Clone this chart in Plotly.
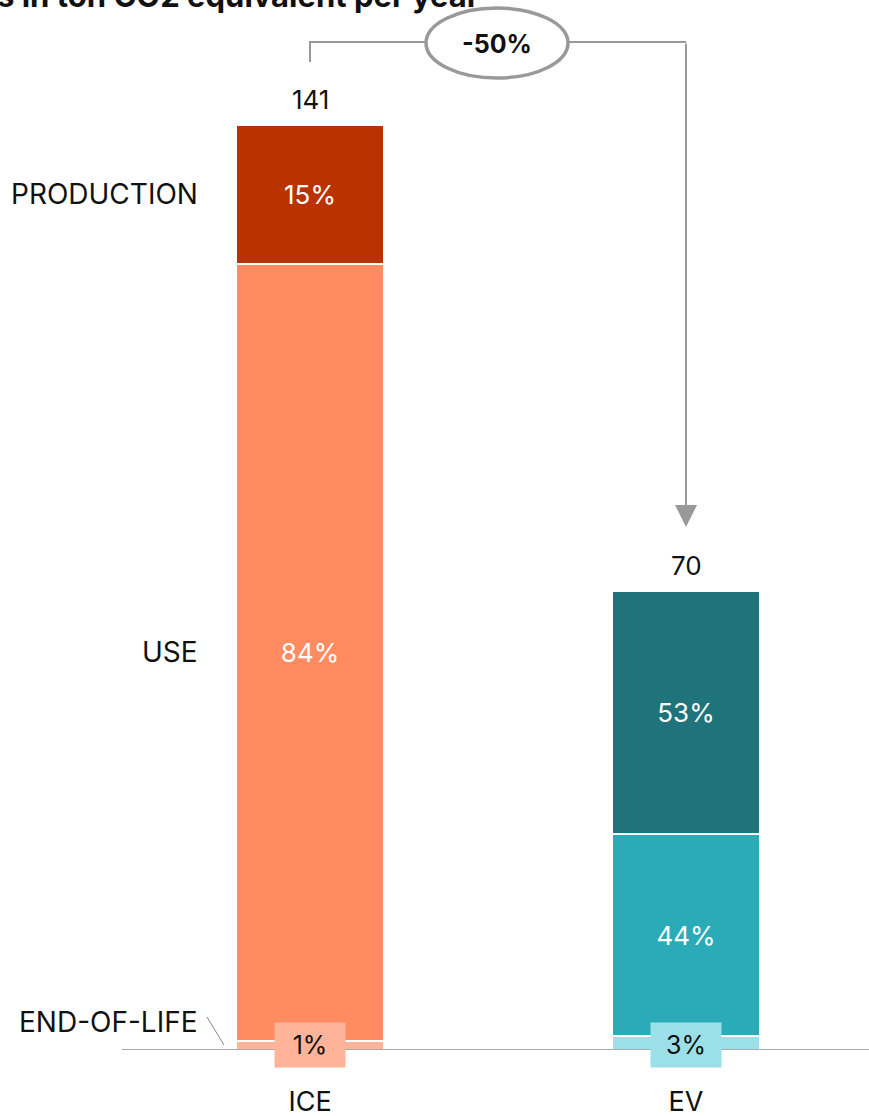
import plotly.graph_objects as go

categories = ["ICE", "EV"]
totals = [141, 70]
stages = ["END-OF-LIFE", "USE", "PRODUCTION"]
eol_pct = [1, 3]
use_pct = [84, 44]
production_pct = [15, 53]
colors = {
    "END-OF-LIFE": ["#FFB399", "#9BE0E8"],
    "USE": ["#FF8C61", "#2BAAB8"],
    "PRODUCTION": ["#B83300", "#1F737A"],
}
pcts = {"END-OF-LIFE": eol_pct, "USE": use_pct, "PRODUCTION": production_pct}
title_text = "Emissions in ton CO2 equivalent per year"
change_text = "-50%"

FONT = "Inter"
W, H = 869, 1116
x_pos = [0, 1]
PX_PER_X = 376.0
PX_PER_Y = 6.56
BASE_PX = 1050
x_left = -310 / PX_PER_X
x_right = (W - 310) / PX_PER_X
y_top = BASE_PX / PX_PER_Y


def px_x(px):
    return (px - 310) / PX_PER_X


def px_y(py):
    return (BASE_PX - py) / PX_PER_Y


fig = go.Figure()
values = {}
for st in stages:
    vals = [t * p / 100 for t, p in zip(totals, pcts[st])]
    values[st] = vals
    fig.add_trace(go.Bar(
        x=x_pos, y=vals, name=st, width=0.394,
        marker=dict(color=colors[st], line=dict(color="white", width=2)),
        text=[f"{p}%" for p in pcts[st]] if st != "END-OF-LIFE" else None,
        textposition="inside" if st != "END-OF-LIFE" else "none",
        insidetextanchor="middle",
        textfont=dict(family=FONT, size=26, color="white"),
        constraintext="none",
        hoverinfo="skip",
        showlegend=False,
    ))

ann = []
# totals on top
for x, t in zip(x_pos, totals):
    ann.append(dict(x=x, y=t, xref="x", yref="y", text=str(t), showarrow=False,
                    yanchor="bottom", yshift=8,
                    font=dict(family=FONT, size=26, color="#111")))

# end-of-life boxes
for x, p, c in zip(x_pos, eol_pct, colors["END-OF-LIFE"]):
    ann.append(dict(x=x, y=px_y(1045), xref="x", yref="y", text=f"{p}%", showarrow=False,
                    width=68, height=42, bgcolor=c, yanchor="middle",
                    font=dict(family=FONT, size=25, color="#111")))

# left stage labels (at ICE segment midpoints)
ice_prod_mid = values["END-OF-LIFE"][0] + values["USE"][0] + values["PRODUCTION"][0] / 2
ice_use_mid = values["END-OF-LIFE"][0] + values["USE"][0] / 2
for txt, yv in [("PRODUCTION", ice_prod_mid), ("USE", ice_use_mid), ("END-OF-LIFE", px_y(1022))]:
    ann.append(dict(x=px_x(200), y=yv, xref="x", yref="y", text=txt, showarrow=False,
                    xanchor="right", yanchor="middle",
                    font=dict(family=FONT, size=28, color="#111")))

# -50% label
ann.append(dict(x=px_x(497), y=px_y(44), xref="x", yref="y", text=f"<b>{change_text}</b>",
                showarrow=False, font=dict(family=FONT, size=25, color="#111")))

# arrow down to EV
ann.append(dict(x=1, y=px_y(527), ax=1, ay=px_y(42), xref="x", yref="y", axref="x", ayref="y",
                text="", showarrow=True, arrowhead=2, arrowsize=2.2, arrowwidth=2,
                arrowcolor="#999"))

# partial title (cut by the top edge as in the reference)
ann.append(dict(x=482 / W, y=1.0, xref="paper", yref="paper", text=f"<b>{title_text}</b>",
                showarrow=False, xanchor="right", yanchor="bottom", yshift=-16,
                font=dict(family=FONT, size=31, color="#111")))

shapes = [
    # bracket
    dict(type="path", xref="x", yref="y",
         path=f"M 0 {px_y(62)} L 0 {px_y(42)} L 1 {px_y(42)}",
         line=dict(color="#999", width=2), layer="above"),
    # ellipse
    dict(type="circle", xref="x", yref="y", x0=px_x(426), x1=px_x(568),
         y0=px_y(78), y1=px_y(8), fillcolor="white", line=dict(color="#999", width=3.5),
         layer="above"),
    # baseline
    dict(type="line", xref="paper", yref="y", x0=122 / W, x1=1, y0=0, y1=0,
         line=dict(color="#aaa", width=2), layer="above"),
    # end-of-life leader
    dict(type="line", xref="x", yref="y", x0=px_x(207), y0=px_y(1017), x1=px_x(224), y1=px_y(1045),
         line=dict(color="#888", width=1), layer="above"),
]

fig.update_layout(
    width=W, height=H, template="none",
    margin=dict(l=0, r=0, t=0, b=H - BASE_PX),
    paper_bgcolor="white", plot_bgcolor="white",
    barmode="stack", bargap=0,
    annotations=ann, shapes=shapes,
    xaxis=dict(range=[x_left, x_right], tickvals=x_pos, ticktext=categories,
               showgrid=False, zeroline=False, showline=False, ticks="outside",
               ticklen=28, tickcolor="rgba(0,0,0,0)", automargin=False,
               tickfont=dict(family=FONT, size=27, color="#111"), fixedrange=True),
    yaxis=dict(range=[0, y_top], visible=False, automargin=False, fixedrange=True),
    uniformtext=dict(mode=False),
)

fig.write_html("out.html", config={"displayModeBar": False},
               post_script="document.body.style.margin='0';document.body.style.overflow='hidden';")
